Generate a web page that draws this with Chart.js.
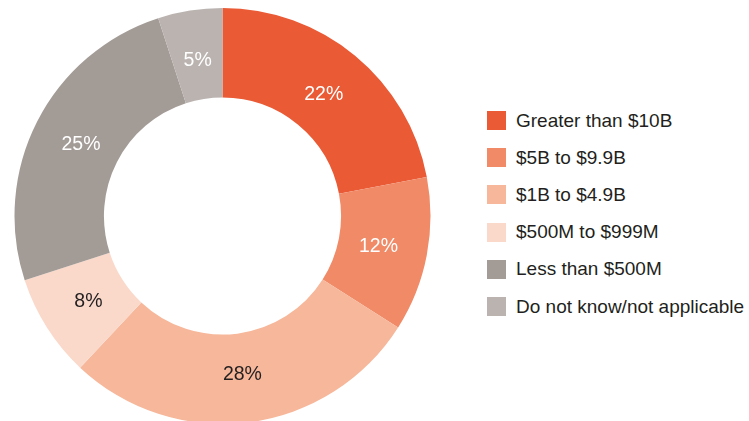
<!DOCTYPE html>
<html>
<head>
<meta charset="utf-8">
<script src="https://cdn.jsdelivr.net/npm/chart.js@4.4.0/dist/chart.umd.min.js"></script>
<style>
  html, body { margin: 0; padding: 0; background: #fff; overflow: hidden; }
  body { width: 749px; height: 421px; position: relative; font-family: "Liberation Sans", Arial, Helvetica, sans-serif; }
  #wrap { position: absolute; left: 0; top: 0; width: 445px; height: 432px; }
  #legend { position: absolute; left: 487px; top: 102px; margin: 0; padding: 0; list-style: none; }
  #legend li { display: flex; align-items: center; height: 37.2px; font-size: 19px; color: #231f20; white-space: nowrap; }
  #legend li span { display: inline-block; width: 19px; height: 19px; margin-right: 10px; }
</style>
</head>
<body>
<div id="wrap"><canvas id="chart"></canvas></div>
<ul id="legend"></ul>
<script>
const categories = [
  'Greater than $10B',
  '$5B to $9.9B',
  '$1B to $4.9B',
  '$500M to $999M',
  'Less than $500M',
  'Do not know/not applicable'
];
const shares = [22, 12, 28, 8, 25, 5];
const sliceColors = ['#e95a35', '#f08a67', '#f6b79a', '#fad9ca', '#a39b96', '#bab3b0'];
const labelColors = ['#ffffff', '#ffffff', '#231f20', '#231f20', '#ffffff', '#ffffff'];

// percentage text inside each ring segment
const sliceLabels = {
  id: 'sliceLabels',
  afterDatasetsDraw(chart) {
    const ctx = chart.ctx;
    const meta = chart.getDatasetMeta(0);
    ctx.save();
    ctx.font = '19.5px "Liberation Sans", Arial, Helvetica, sans-serif';
    ctx.textAlign = 'center';
    ctx.textBaseline = 'middle';
    meta.data.forEach((arc, i) => {
      const p = arc.getProps(['x', 'y', 'startAngle', 'endAngle', 'innerRadius', 'outerRadius'], true);
      const mid = (p.startAngle + p.endAngle) / 2;
      const r = p.innerRadius + (p.outerRadius - p.innerRadius) * 0.45;
      ctx.fillStyle = labelColors[i];
      ctx.fillText(shares[i] + '%', p.x + Math.cos(mid) * r, p.y + Math.sin(mid) * r + 1);
    });
    ctx.restore();
  }
};

const chart = new Chart(document.getElementById('chart'), {
  type: 'doughnut',
  data: {
    labels: categories,
    datasets: [{
      data: shares,
      backgroundColor: sliceColors,
      borderWidth: 0
    }]
  },
  options: {
    responsive: true,
    maintainAspectRatio: false,
    animation: false,
    cutout: '57%',
    layout: { padding: 8 },
    plugins: {
      legend: { display: false },
      tooltip: { enabled: false }
    }
  },
  plugins: [sliceLabels]
});

// legend list built from the same arrays
const legend = document.getElementById('legend');
categories.forEach((name, i) => {
  const li = document.createElement('li');
  const box = document.createElement('span');
  box.style.background = sliceColors[i];
  li.appendChild(box);
  li.appendChild(document.createTextNode(name));
  legend.appendChild(li);
});
</script>
</body>
</html>
